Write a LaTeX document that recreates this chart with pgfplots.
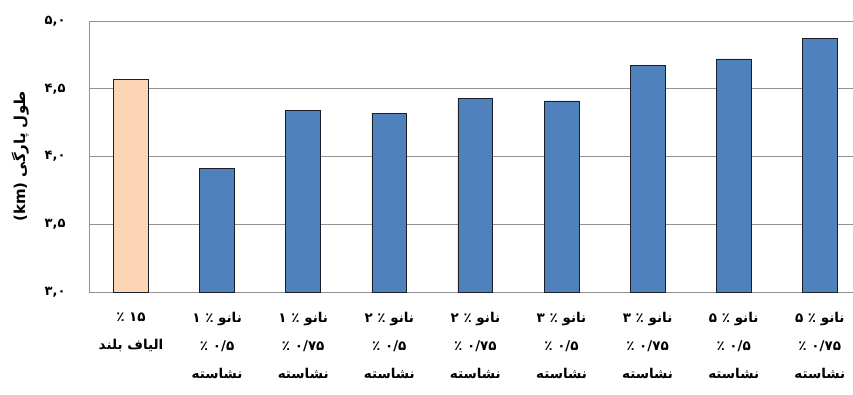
\documentclass[border=0pt]{standalone}
\usepackage{fontspec}
\usepackage{pgfplots}
\pgfplotsset{compat=1.18}
\TeXXeTstate=1
\newfontfamily\fa[Script=Arabic]{DejaVu Sans}

\definecolor{barblue}{RGB}{79,129,189}
\definecolor{peach}{RGB}{251,212,180}
\definecolor{gridgray}{RGB}{145,145,145}
\definecolor{edge}{RGB}{25,30,40}

\begin{document}
\begin{tikzpicture}
\useasboundingbox (-89pt,-102pt) rectangle (764pt,292pt);
\begin{axis}[
  at={(0pt,0pt)}, anchor=south west,
  scale only axis, width=764pt, height=271pt,
  xmin=-0.488, xmax=8.386, ymin=3, ymax=5,
  ybar, bar width=0.405,
  axis x line*=bottom, axis y line*=left,
  axis line style={gridgray, line width=0.8pt, -},
  ymajorgrids, grid style={gridgray, line width=0.8pt},
  major tick length=0pt,
  ytick={3,3.5,4,4.5,5},
  yticklabels={{۳,۰},{۳,۵},{۴,۰},{۴,۵},{۵,۰}},
  yticklabel style={font=\fa\bfseries\fontsize{13}{15}\selectfont, xshift=-20pt},
  xtick={0,...,8},
  xticklabels={
    {\beginR ۱۵ ٪\endR\\\beginR الیاف بلند\endR\\\strut},
    {\beginR نانو ٪ ۱\endR\\\beginR ۰/۵ ٪\endR\\\beginR نشاسته\endR},
    {\beginR نانو ٪ ۱\endR\\\beginR ۰/۷۵ ٪\endR\\\beginR نشاسته\endR},
    {\beginR نانو ٪ ۲\endR\\\beginR ۰/۵ ٪\endR\\\beginR نشاسته\endR},
    {\beginR نانو ٪ ۲\endR\\\beginR ۰/۷۵ ٪\endR\\\beginR نشاسته\endR},
    {\beginR نانو ٪ ۳\endR\\\beginR ۰/۵ ٪\endR\\\beginR نشاسته\endR},
    {\beginR نانو ٪ ۳\endR\\\beginR ۰/۷۵ ٪\endR\\\beginR نشاسته\endR},
    {\beginR نانو ٪ ۵\endR\\\beginR ۰/۵ ٪\endR\\\beginR نشاسته\endR},
    {\beginR نانو ٪ ۵\endR\\\beginR ۰/۷۵ ٪\endR\\\beginR نشاسته\endR}},
  xticklabel style={font=\fa\bfseries\fontsize{13.5}{27.8}\selectfont, align=center, anchor=north, yshift=-17pt},
  ylabel={\beginR طول پارگی \beginL(km)\endL\endR},
  ylabel style={font=\fa\bfseries\fontsize{15}{17}\selectfont, at={(axis description cs:-0.09,0.5)}, anchor=center},
  clip=true,
]
\addplot[fill=peach, draw=edge, line width=0.7pt, bar shift=0pt]
  coordinates {(0,4.57)};
\addplot[fill=barblue, draw=edge, line width=0.7pt, bar shift=0pt]
  coordinates {(1,3.91) (2,4.34) (3,4.32) (4,4.43) (5,4.41) (6,4.67) (7,4.72) (8,4.87)};
\end{axis}
\end{tikzpicture}
\end{document}
